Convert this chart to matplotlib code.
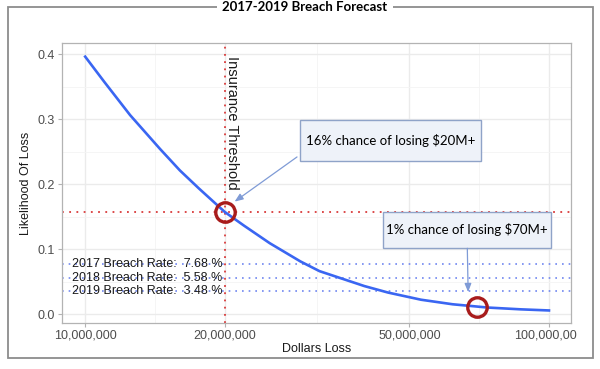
import numpy as np
import matplotlib
matplotlib.use('Agg')
import matplotlib.pyplot as plt
from matplotlib.patches import Rectangle
from matplotlib.ticker import NullFormatter
from matplotlib.transforms import Bbox, TransformedBbox

# curve (loss in millions of dollars, likelihood)
loss_m = [10, 11, 12.5, 14.5, 16, 17.6, 20, 22, 25, 29.1, 32, 35.6, 40, 45, 53, 62, 73.7, 87, 100]
likelihood = [0.396, 0.357, 0.306, 0.254, 0.221, 0.193, 0.157, 0.136, 0.109, 0.081, 0.066,
              0.055, 0.043, 0.033, 0.022, 0.015, 0.010, 0.0072, 0.0055]

x_ticks = [10_000_000, 20_000_000, 50_000_000, 100_000_000]
y_ticks = [0.0, 0.1, 0.2, 0.3, 0.4]

threshold = 20_000_000
threshold_prob = 0.157
tail_loss = 70_000_000
tail_prob = 0.0115

breach_years = ['2017', '2018', '2019']
breach_rates = [0.0768, 0.0558, 0.0348]

note_1 = '16% chance of losing $20M+'
note_2 = '1% chance of losing $70M+'

plt.rcParams['font.family'] = ['Liberation Sans', 'DejaVu Sans']

fig = plt.figure(figsize=(6, 3.69), dpi=100)
ax = fig.add_axes([62/600, 1 - 323/369, 509/600, 280/369])

loss = np.array(loss_m) * 1e6

ax.set_xscale('log')
ax.set_xlim(10**6.950, 10**8.0475)
ax.set_ylim(-0.0138, 0.417)

# grid, ggplot light style
ax.set_xticks(x_ticks)
ax.set_xticklabels([f'{v:,}' for v in x_ticks])
ax.set_yticks(y_ticks)
ax.set_yticklabels([f'{v:.1f}' for v in y_ticks])
x_minor = [np.sqrt(a * b) for a, b in zip(x_ticks[:-1], x_ticks[1:])]
y_minor = [(a + b) / 2 for a, b in zip(y_ticks[:-1], y_ticks[1:])]
ax.set_xticks(x_minor, minor=True)
ax.set_yticks(y_minor, minor=True)
ax.xaxis.set_minor_formatter(NullFormatter())
ax.yaxis.set_minor_formatter(NullFormatter())
ax.tick_params(which='minor', length=0)
ax.tick_params(which='major', length=3, color='#b3b3b3', labelcolor='#4d4d4d', labelsize=9, pad=2)
ax.grid(which='major', color='#ebebeb', lw=1.0)
ax.grid(which='minor', color='#f4f4f4', lw=0.6)
ax.set_axisbelow(True)
for s in ax.spines.values():
    s.set_color('#b3b3b3')
    s.set_linewidth(0.9)

# reference lines
ax.axvline(threshold, color='#d93a3a', ls=(0, (1, 3)), lw=1.3, zorder=2)
ax.axhline(threshold_prob, color='#d93a3a', ls=(0, (1, 3)), lw=1.3, zorder=2)
for yr, rate in zip(breach_years, breach_rates):
    ax.axhline(rate, color='#6f86f0', ls=(0, (1, 3)), lw=1.2, zorder=2)
    ax.text(10**6.972, rate, f'{yr} Breach Rate:  {rate*100:.2f} %', fontsize=9,
            va='center', ha='left', color='#1a1a1a', zorder=3)

ax.plot(loss, likelihood, color='#3a66f2', lw=1.9, zorder=4)

ax.plot([threshold, tail_loss], [threshold_prob, tail_prob], 'o', ms=14, mfc='none',
        mec='#a81c1c', mew=2.4, zorder=5)

ax.text(threshold * 1.038, 0.397, 'Insurance Threshold', rotation=-90, ha='center', va='top',
        fontsize=10.5, color='#1a1a1a')

# callout boxes
box_fc = '#eef2f9'
box_ec = '#8fa3c8'
ax.add_patch(Rectangle((0.4676, 0.5786), 0.3556, 0.1464, transform=ax.transAxes,
                       fc=box_fc, ec=box_ec, lw=1.0, zorder=6))
ax.text(0.4676 + 0.3556 / 2, 0.5786 + 0.1464 / 2, note_1, transform=ax.transAxes,
        ha='center', va='center', fontsize=9.5, family=['Lato', 'DejaVu Sans'], zorder=7)
ax.add_patch(Rectangle((0.6306, 0.2668), 0.3301, 0.1307, transform=ax.transAxes,
                       fc=box_fc, ec=box_ec, lw=1.0, zorder=6))
ax.text(0.6306 + 0.3301 / 2, 0.2668 + 0.1307 / 2, note_2, transform=ax.transAxes,
        ha='center', va='center', fontsize=9.5, family=['Lato', 'DejaVu Sans'], zorder=7)

arrow = dict(arrowstyle='-|>,head_length=0.5,head_width=0.2', color='#7f9bd6', lw=0.9,
             shrinkA=0, shrinkB=0)
ax.annotate('', xy=(threshold * 1.05, 0.173), xycoords='data',
            xytext=(0.4617, 0.593), textcoords='axes fraction', arrowprops=arrow, zorder=6)
ax.annotate('', xy=(10**7.8257, breach_rates[2] - 0.001), xycoords='data',
            xytext=(0.7963, 0.2668), textcoords='axes fraction', arrowprops=arrow, zorder=6)

ax.set_xlabel('Dollars Loss', fontsize=9, color='#1a1a1a', labelpad=1)
ax.set_ylabel('Likelihood Of Loss', fontsize=9, color='#1a1a1a', labelpad=4)

# outer frame with title breaking the top edge
fig.add_artist(Rectangle((8/600, 1 - 358/369), 585/600, 351/369, transform=fig.transFigure,
                         fill=False, ec='#8c8c8c', lw=1.3))
fig.text(305/600, 1 - 7/369, '2017-2019 Breach Forecast', ha='center', va='center',
         fontsize=9.5, fontweight='bold', family=['Lato', 'DejaVu Sans'],
         bbox=dict(fc='white', ec='none', pad=4))

# right tick label is cut off at the frame in the original
clip = TransformedBbox(Bbox([[0, 0], [577/600, 1]]), fig.transFigure)
for lab in ax.get_xticklabels():
    lab.set_clip_on(True)
    lab.set_clip_box(clip)

fig.savefig('out.png', dpi=100)
